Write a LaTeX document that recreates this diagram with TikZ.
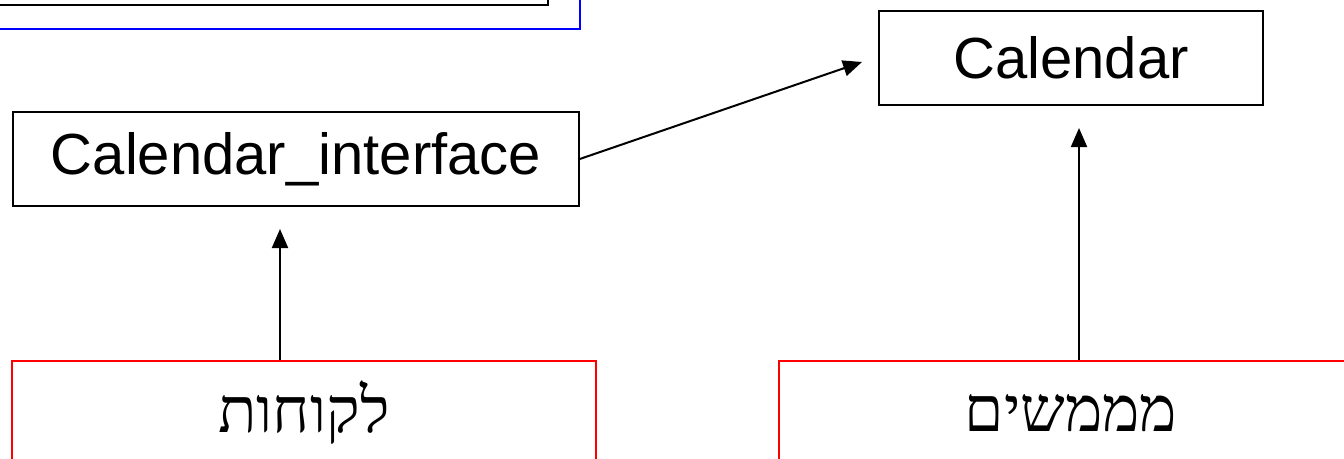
\documentclass[tikz,border=0pt]{standalone}
\usepackage{fontspec}
\setmainfont{Liberation Sans}
\newfontfamily\hebfont[Script=Hebrew]{Liberation Serif}
\TeXXeTstate=1
\usetikzlibrary{arrows.meta}
\tikzset{
  box/.style={draw=black, line width=1.5pt, rectangle, inner sep=0pt, font=\fontsize{58}{60}\selectfont},
  redbox/.style={draw=red, line width=1.8pt, rectangle, inner sep=0pt, font=\hebfont\fontsize{63}{66}\selectfont},
  conn/.style={line width=2pt, -{Triangle[length=19pt,width=16pt]}}
}
\begin{document}
\begin{tikzpicture}[x=1pt,y=-1pt]
\clip (0,0) rectangle (1344,458);
\fill[white] (0,0) rectangle (1344,458);
% partial top-left boxes
\draw[blue, line width=2pt] (-20,-100) rectangle (580,29);
\draw[black, line width=2.2pt] (-20,-100) rectangle (548,5);
% nodes
\node[box, minimum width=384pt, minimum height=94pt] (cal) at (1071,58) {\raisebox{-2pt}{Calendar}};
\node[box, minimum width=566pt, minimum height=94pt] (ci) at (296,159) {\raisebox{-2.5pt}{Calendar\_interface}};
\node[redbox, minimum width=584pt, minimum height=104pt] (cl) at (304,413) {\beginR לקוחות\endR};
\node[redbox, minimum width=584pt, minimum height=104pt] (im) at (1071,413) {\beginR מממשים\endR};
\coordinate (calin) at (862,62);
\coordinate (ciin) at (280,229);
\coordinate (calbot) at (1079,128);
% connectors
\draw[conn] (ci.east) -- (calin);
\draw[conn] (cl.north -| ciin) -- (ciin);
\draw[conn] (im.north -| calbot) -- (calbot);
\end{tikzpicture}
\end{document}
